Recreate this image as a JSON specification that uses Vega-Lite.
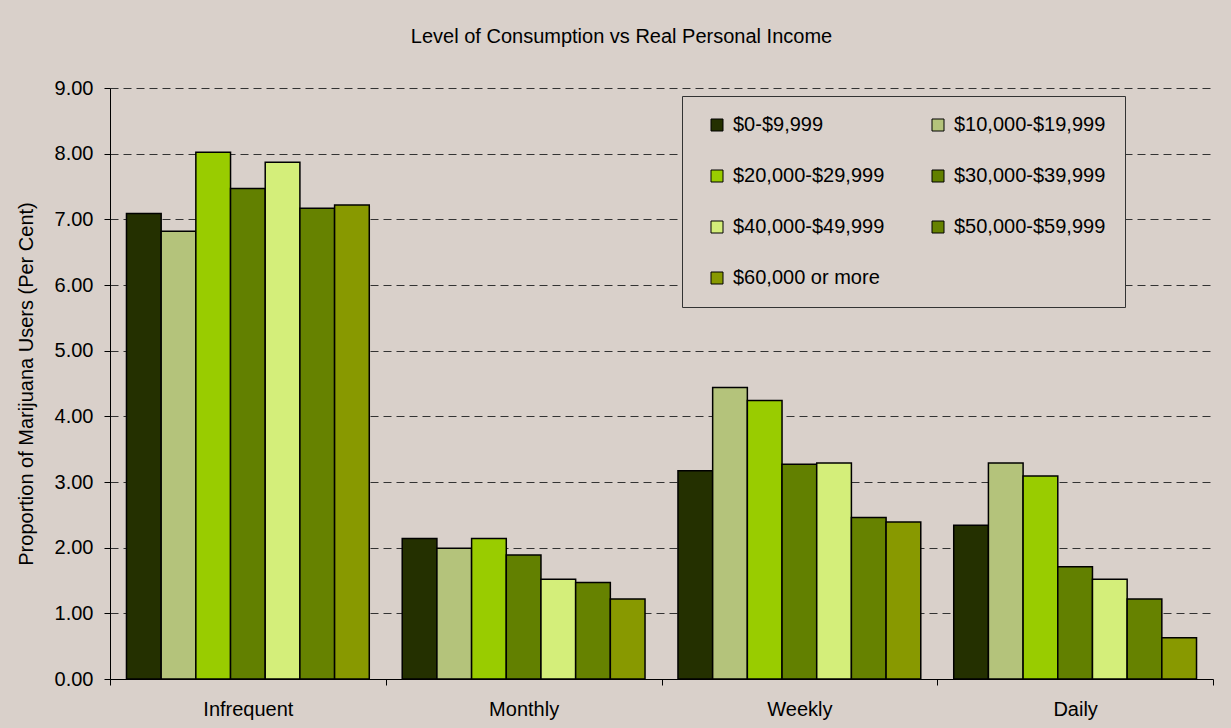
{
  "$schema": "https://vega.github.io/schema/vega-lite/v6.json",
  "width": 1103,
  "height": 591,
  "autosize": {"type": "none"},
  "padding": {"left": 110, "top": 88, "right": 18, "bottom": 49},
  "background": "#D9D0CA",
  "config": {
    "font": "Liberation Sans",
    "view": {"stroke": null},
    "axis": {"labelColor": "#000000", "titleColor": "#000000", "labelFontSize": 20, "titleFontSize": 20, "titleFontWeight": "normal", "domainColor": "#000000", "tickColor": "#000000", "tickSize": 6}
  },
  "title": {
    "text": "Level of Consumption vs Real Personal Income",
    "fontSize": 20,
    "fontWeight": "normal",
    "color": "#000000",
    "anchor": "middle",
    "frame": "group",
    "dx": -40,
    "offset": 31
  },
  "data": {
    "values": [
      {"freq": "Infrequent", "income": "$0-$9,999", "value": 7.09},
      {"freq": "Infrequent", "income": "$10,000-$19,999", "value": 6.82},
      {"freq": "Infrequent", "income": "$20,000-$29,999", "value": 8.02},
      {"freq": "Infrequent", "income": "$30,000-$39,999", "value": 7.47},
      {"freq": "Infrequent", "income": "$40,000-$49,999", "value": 7.87},
      {"freq": "Infrequent", "income": "$50,000-$59,999", "value": 7.17},
      {"freq": "Infrequent", "income": "$60,000 or more", "value": 7.22},
      {"freq": "Monthly", "income": "$0-$9,999", "value": 2.14},
      {"freq": "Monthly", "income": "$10,000-$19,999", "value": 1.99},
      {"freq": "Monthly", "income": "$20,000-$29,999", "value": 2.14},
      {"freq": "Monthly", "income": "$30,000-$39,999", "value": 1.89},
      {"freq": "Monthly", "income": "$40,000-$49,999", "value": 1.52},
      {"freq": "Monthly", "income": "$50,000-$59,999", "value": 1.47},
      {"freq": "Monthly", "income": "$60,000 or more", "value": 1.22},
      {"freq": "Weekly", "income": "$0-$9,999", "value": 3.17},
      {"freq": "Weekly", "income": "$10,000-$19,999", "value": 4.44},
      {"freq": "Weekly", "income": "$20,000-$29,999", "value": 4.24},
      {"freq": "Weekly", "income": "$30,000-$39,999", "value": 3.27},
      {"freq": "Weekly", "income": "$40,000-$49,999", "value": 3.29},
      {"freq": "Weekly", "income": "$50,000-$59,999", "value": 2.46},
      {"freq": "Weekly", "income": "$60,000 or more", "value": 2.39},
      {"freq": "Daily", "income": "$0-$9,999", "value": 2.34},
      {"freq": "Daily", "income": "$10,000-$19,999", "value": 3.29},
      {"freq": "Daily", "income": "$20,000-$29,999", "value": 3.09},
      {"freq": "Daily", "income": "$30,000-$39,999", "value": 1.71},
      {"freq": "Daily", "income": "$40,000-$49,999", "value": 1.52},
      {"freq": "Daily", "income": "$50,000-$59,999", "value": 1.22},
      {"freq": "Daily", "income": "$60,000 or more", "value": 0.63}
    ]
  },
  "mark": {"type": "bar", "stroke": "#000000", "strokeWidth": 1.5, "opacity": 1},
  "encoding": {
    "x": {
      "field": "freq",
      "type": "nominal",
      "sort": ["Infrequent", "Monthly", "Weekly", "Daily"],
      "scale": {"paddingInner": 0, "paddingOuter": 0},
      "axis": {"title": null, "labelAngle": 0, "tickBand": "extent", "labelPadding": 14, "domainWidth": 1}
    },
    "xOffset": {
      "field": "income",
      "type": "nominal",
      "sort": ["$0-$9,999", "$10,000-$19,999", "$20,000-$29,999", "$30,000-$39,999", "$40,000-$49,999", "$50,000-$59,999", "$60,000 or more"],
      "scale": {"paddingInner": 0, "paddingOuter": 0.475}
    },
    "y": {
      "field": "value",
      "type": "quantitative",
      "scale": {"domain": [0, 9], "nice": false},
      "axis": {
        "title": "Proportion of Marijuana Users (Per Cent)",
        "values": [0, 1, 2, 3, 4, 5, 6, 7, 8, 9],
        "format": ".2f",
        "labelPadding": 11,
        "titlePadding": 18,
        "grid": true,
        "gridColor": "#333333",
        "gridDash": [8, 5],
        "gridWidth": 1
      }
    },
    "color": {
      "field": "income",
      "type": "nominal",
      "sort": ["$0-$9,999", "$10,000-$19,999", "$20,000-$29,999", "$30,000-$39,999", "$40,000-$49,999", "$50,000-$59,999", "$60,000 or more"],
      "scale": {
        "domain": ["$0-$9,999", "$10,000-$19,999", "$20,000-$29,999", "$30,000-$39,999", "$40,000-$49,999", "$50,000-$59,999", "$60,000 or more"],
        "range": ["#243000", "#B4C37B", "#99CC00", "#628000", "#D4EE7A", "#668200", "#889900"]
      },
      "legend": {
        "title": null,
        "orient": "none",
        "direction": "horizontal",
        "legendX": 572,
        "legendY": 8,
        "columns": 2,
        "fillColor": "#D9D0CA",
        "strokeColor": "#333333",
        "padding": 19,
        "symbolOffset": 6,
        "symbolType": "square",
        "symbolSize": 144,
        "symbolStrokeColor": "#000000",
        "symbolStrokeWidth": 1,
        "symbolOpacity": 1,
        "labelFontSize": 20,
        "labelColor": "#000000",
        "labelOffset": 6,
        "columnPadding": 37,
        "rowPadding": 31
      }
    }
  }
}
